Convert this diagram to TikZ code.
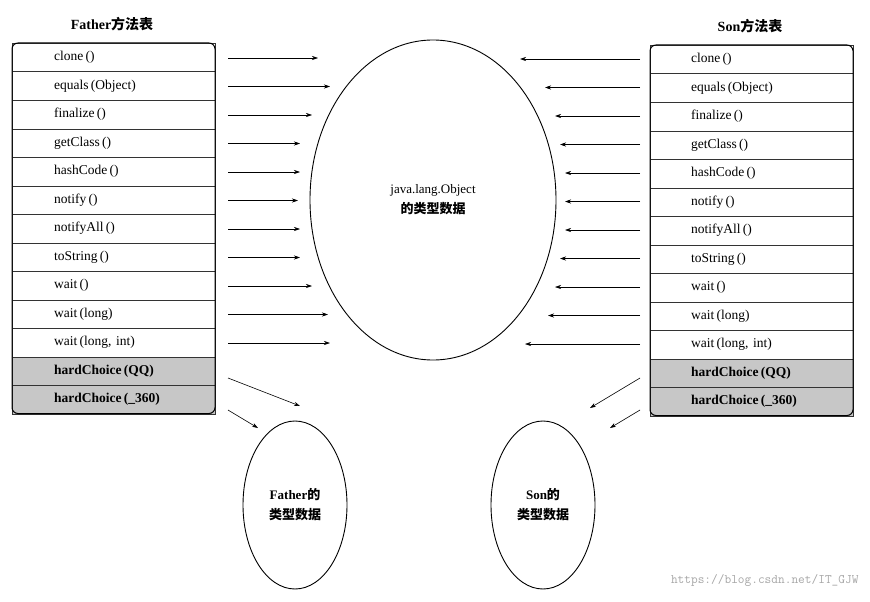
\documentclass[tikz,border=0pt]{standalone}
\usepackage{fontspec}
\setmainfont{Liberation Serif}
\newfontfamily\cjk{Noto Sans CJK SC}
\usetikzlibrary{arrows.meta,shapes.geometric}
\begin{document}
\begin{tikzpicture}[x=1pt,y=-1pt,
  rowbox/.style={draw=black!80,minimum width=203pt,minimum height=28.5pt,anchor=north west,inner sep=0pt,font=\fontsize{13.5}{14}\selectfont,text width=163pt,align=left},
  grayrow/.style={rowbox,fill=black!22},
  arr/.style={-{Stealth[length=6pt,width=4pt]},line width=0.6pt},
  oval/.style={draw,ellipse,line width=0.9pt,inner sep=0pt,align=center,font=\fontsize{13}{20}\selectfont}]
\useasboundingbox (0,0) rectangle (870,602);
\node[font=\bfseries\fontsize{14}{16}\selectfont] (ft) at (112,24) {Father\cjk 方法表};
\node[font=\bfseries\fontsize{14}{16}\selectfont] (st) at (750,26) {Son\cjk 方法表};
\def\names{clone\,(),equals\,(Object),finalize\,(),getClass\,(),hashCode\,(),notify\,(),notifyAll\,(),toString\,(),wait\,(),wait\,(long),{wait\,(long, int)}}
\foreach \t [count=\i] in \names {
  \node[rowbox] (L\i) at (12,{43+(\i-1)*28.5}) {\hspace*{22pt}\t};
  \node[rowbox] (R\i) at (650,{45+(\i-1)*28.5}) {\hspace*{21pt}\t};
}
\node[grayrow] (L12) at (12,{43+11*28.5}) {\hspace*{22pt}\bfseries hardChoice\,(QQ)};
\node[grayrow] (L13) at (12,{43+12*28.5}) {\hspace*{22pt}\bfseries hardChoice\,(\_360)};
\node[grayrow] (R12) at (650,{45+11*28.5}) {\hspace*{21pt}\bfseries hardChoice\,(QQ)};
\node[grayrow] (R13) at (650,{45+12*28.5}) {\hspace*{21pt}\bfseries hardChoice\,(\_360)};
\draw[rounded corners=6pt,line width=1pt] (12,43) rectangle (215,{43+13*28.5});
\draw[rounded corners=6pt,line width=1pt] (650,45) rectangle (853,{45+13*28.5});
\node[oval,minimum width=246pt,minimum height=320pt] (obj) at (433,200) {java.lang.Object\\{\cjk\bfseries 的类型数据}};
\node[oval,minimum width=104pt,minimum height=168pt] (fa) at (295,505) {\bfseries Father{\cjk 的}\\{\cjk\bfseries 类型数据}};
\node[oval,minimum width=104pt,minimum height=168pt] (so) at (543,505) {\bfseries Son{\cjk 的}\\{\cjk\bfseries 类型数据}};
\foreach \le/\re [count=\i] in {318/520,330/545,312/555,300/560,300/565,298/565,300/565,300/560,312/555,328/548,330/525} {
  \coordinate (la\i) at (\le,{58+(\i-1)*28.5});
  \coordinate (ra\i) at (\re,{59+(\i-1)*28.5});
  \draw[arr] (228,{58+(\i-1)*28.5}) -- (la\i);
  \draw[arr] (640,{59+(\i-1)*28.5}) -- (ra\i);
}
\draw[arr] (228,378) -- (300,406);
\draw[arr] (228,410) -- (258,428);
\draw[arr] (640,378) -- (590,408);
\draw[arr] (640,410) -- (610,428);
\node[font=\ttfamily\fontsize{13}{14}\selectfont,text=black!35,anchor=east] (wm) at (862,580) {https://blog.csdn.net/IT\_GJW};
\end{tikzpicture}
\end{document}
